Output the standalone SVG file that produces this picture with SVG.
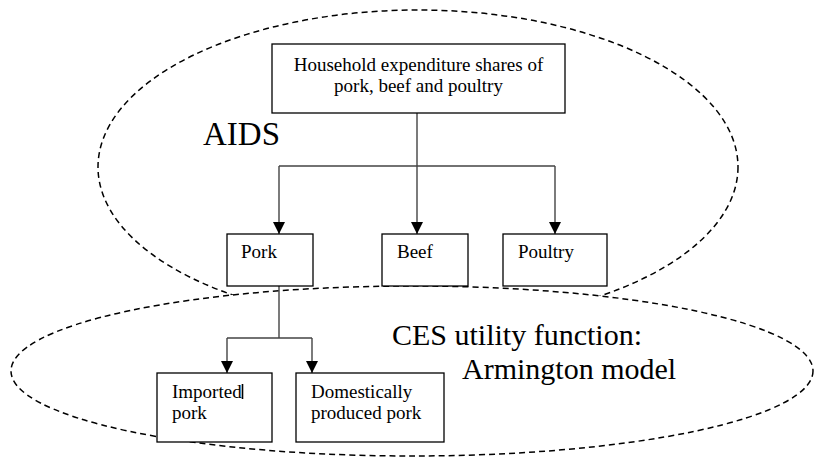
<svg xmlns="http://www.w3.org/2000/svg" width="814" height="457" viewBox="0 0 814 457">
<style>
.region{stroke:#000;stroke-width:1.5;stroke-dasharray:6 4}
.box{fill:#fff;stroke:#000;stroke-width:1.3}
.conn{fill:none;stroke:#444;stroke-width:1.4}
.t{font-family:"Liberation Serif","Times New Roman",serif;fill:#000}
.bt{font-size:19px}
.big{font-size:30px}
</style>
<defs>
<marker id="arr" viewBox="0 0 12 12" refX="12" refY="6" markerWidth="12" markerHeight="12" markerUnits="userSpaceOnUse" orient="auto">
<path d="M0,0 L12,6 L0,12 z" fill="#000"/>
</marker>
</defs>
<rect width="814" height="457" fill="#fff"/>
<g id="aids-region">
<ellipse class="region" cx="418" cy="167" rx="320" ry="157" fill="none"/>
<text class="t" x="203" y="145" font-size="33" font-family="Liberation Serif, serif">AIDS</text>
</g>
<g id="ces-region">
<ellipse class="region" cx="412" cy="371" rx="401" ry="85" fill="#fff"/>
<text class="t big" x="392" y="345" font-family="Liberation Serif, serif">CES utility function:</text>
<text class="t big" x="462" y="379" font-family="Liberation Serif, serif">Armington model</text>
</g>
<g id="connectors">
<path class="conn" d="M417,113 V166 M279,166 H555"/>
<path class="conn" d="M279,166 V234" marker-end="url(#arr)"/>
<path class="conn" d="M417,166 V234" marker-end="url(#arr)"/>
<path class="conn" d="M555,166 V234" marker-end="url(#arr)"/>
<path class="conn" d="M279,286 V338 M227,338 H312"/>
<path class="conn" d="M227,338 V373" marker-end="url(#arr)"/>
<path class="conn" d="M312,338 V373" marker-end="url(#arr)"/>
</g>
<g id="household">
<rect class="box" x="272" y="44" width="293" height="69"/>
<text class="t bt" x="418.5" y="71" text-anchor="middle">Household expenditure shares of</text>
<text class="t bt" x="418.5" y="92" text-anchor="middle">pork, beef and poultry</text>
</g>
<g id="pork">
<rect class="box" x="227" y="234" width="86" height="52"/>
<text class="t bt" x="241" y="258">Pork</text>
</g>
<g id="beef">
<rect class="box" x="382" y="234" width="86" height="52"/>
<text class="t bt" x="397" y="258">Beef</text>
</g>
<g id="poultry">
<rect class="box" x="503" y="234" width="104" height="52"/>
<text class="t bt" x="518" y="258">Poultry</text>
</g>
<g id="imported">
<rect class="box" x="157" y="373" width="115" height="69"/>
<text class="t bt" x="172" y="398">Imported</text>
<text class="t bt" x="172" y="419">pork</text>
<line x1="242.5" y1="384" x2="242.5" y2="399" stroke="#000" stroke-width="1.6"/>
</g>
<g id="domestic">
<rect class="box" x="296" y="373" width="148" height="69"/>
<text class="t bt" x="311" y="398">Domestically</text>
<text class="t bt" x="311" y="419">produced pork</text>
</g>
</svg>
